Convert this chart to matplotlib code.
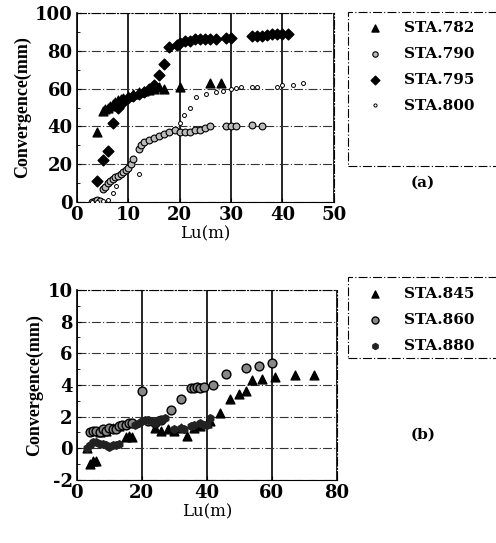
import matplotlib.pyplot as plt
from matplotlib.patches import Rectangle
from matplotlib.ticker import MultipleLocator

plt.rcParams["font.family"] = ["DejaVu Serif"]
plt.rcParams["font.weight"] = "bold"
plt.rcParams["axes.unicode_minus"] = False

# (a) stations 782 - 800
sta782_x = [4, 5, 5.5, 6, 6.5, 7, 7.5, 8, 8.5, 9, 10, 11, 12, 13, 14, 15, 16, 17, 20, 26, 28]
sta782_y = [37, 48, 49, 50, 51, 52, 53, 54, 54.5, 55, 56, 57, 58, 59, 59.5, 60, 61, 60, 61, 63, 63]

sta790_x = [3, 3.5, 4, 4.5, 5, 5.5, 6, 6.5, 7, 7.5, 8, 8.5, 9, 9.5, 10, 10.5, 11, 12,
            12.5, 13, 14, 15, 16, 17, 18, 19, 20, 21, 22, 23, 24, 25, 26, 29, 30, 31, 34, 36]
sta790_y = [0, 0.5, 1, 0.5, 7, 8, 10, 11, 12, 13, 14, 15, 16, 17, 18, 20, 23, 28,
            30, 32, 33, 34, 35, 36, 37, 38, 37, 37, 37, 38, 38, 39, 40, 40, 40, 40, 40.5, 40]

sta795_x = [4, 5, 6, 7, 8, 9, 10, 11, 12, 13, 14, 15, 16, 17, 18, 19.5, 20, 21, 22, 23,
            24, 25, 26, 27, 29, 30, 34, 35, 36, 37, 38, 39, 40, 41]
sta795_y = [11, 22, 27, 42, 50, 53, 55, 56, 57, 58, 60, 62, 67, 73, 82, 83, 84, 85, 85, 86,
            86, 86, 86, 86, 87, 87, 88, 88, 88, 88.5, 89, 89, 89, 89]

sta800_x = [3, 4, 5, 6, 7, 7.7, 12, 20, 20.8, 22.1, 23.1, 25.2, 27, 28.5, 30, 31, 32, 34, 35, 39, 40, 42, 44]
sta800_y = [0, 0, 0.5, 1, 4.8, 8.5, 15, 42, 46, 50, 55.6, 57, 58, 59, 60, 60.5, 61, 61, 61, 61, 62, 62, 63]

# (b) stations 845 - 880
sta845_x = [3, 4, 5, 6, 7, 9, 11, 13, 15, 16, 17, 24, 26, 28, 30, 32, 34, 36, 38, 40, 41,
            44, 47, 50, 52, 54, 57, 61, 67, 73]
sta845_y = [0, -1.0, -0.8, -0.8, 1.0, 1.1, 1.3, 1.4, 0.7, 0.8, 0.7, 1.3, 1.1, 1.2, 1.1, 1.3,
            0.8, 1.3, 1.4, 1.6, 1.7, 2.2, 3.1, 3.4, 3.6, 4.3, 4.4, 4.5, 4.6, 4.6]

sta860_x = [4, 5, 6, 7, 8, 9, 10, 11, 12, 13, 14, 15, 16, 17, 20, 22, 24, 26, 29, 32,
            35, 36, 37, 38, 39, 42, 46, 52, 56, 60]
sta860_y = [1.0, 1.1, 1.1, 1.0, 1.2, 1.1, 1.3, 1.2, 1.2, 1.4, 1.5, 1.5, 1.6, 1.6, 3.6, 1.7,
            1.6, 1.8, 2.4, 3.1, 3.8, 3.8, 3.9, 3.8, 3.9, 4.0, 4.7, 5.1, 5.2, 5.4]

sta880_x = [3, 4, 5, 6, 7, 8, 9, 10, 11, 12, 13, 18, 19, 20, 21, 22, 23, 24, 25, 26, 27,
            30, 32, 33, 35, 36, 38, 39, 40, 41]
sta880_y = [0, 0.2, 0.4, 0.4, 0.3, 0.3, 0.2, 0.1, 0.2, 0.2, 0.3, 1.5, 1.6, 1.7, 1.8, 1.8,
            1.7, 1.6, 1.8, 1.8, 1.9, 1.2, 1.3, 1.2, 1.4, 1.5, 1.6, 1.5, 1.5, 1.9]

DASHDOT = (0, (8, 2, 1, 2))


def style_axes(ax, xmax, xstep, ymin, ymax, ystep):
    ax.set_xlim(0, xmax)
    ax.set_ylim(ymin, ymax)
    ax.xaxis.set_major_locator(MultipleLocator(xstep))
    ax.yaxis.set_major_locator(MultipleLocator(ystep))
    ax.yaxis.set_minor_locator(MultipleLocator(ystep / 2))
    ax.tick_params(which="both", direction="in", labelsize=13, length=3, pad=3)
    ax.tick_params(which="minor", length=2)
    ax.xaxis.grid(True, color="black", linewidth=1.2)
    ax.yaxis.grid(True, color="#333333", linewidth=0.8, linestyle=DASHDOT)
    ax.set_axisbelow(True)
    for side in ["top", "right"]:
        ax.spines[side].set_linestyle(DASHDOT)
        ax.spines[side].set_linewidth(0.8)
    ax.spines["left"].set_linewidth(1.2)
    ax.spines["bottom"].set_linewidth(0.8)
    ax.set_xlabel("Lu(m)", fontsize=12, labelpad=1)
    # the y label is set in a narrower face so its length matches the original
    ax.set_ylabel("Convergence(mm)", fontsize=13, labelpad=3,
                  family="Liberation Serif", fontweight="bold")


fig = plt.figure(figsize=(4.96, 5.43), dpi=100)
ax1 = fig.add_axes([0.155, 0.628, 0.518, 0.348])
ax2 = fig.add_axes([0.155, 0.116, 0.524, 0.350])

ax1.scatter(sta782_x, sta782_y, marker="^", s=40, c="black", label="STA.782", zorder=3)
ax1.scatter(sta790_x, sta790_y, marker="o", s=24, facecolor="#bbbbbb", edgecolor="black",
            linewidth=0.8, label="STA.790", zorder=3)
ax1.scatter(sta795_x, sta795_y, marker="D", s=30, c="black", label="STA.795", zorder=3)
ax1.scatter(sta800_x, sta800_y, marker="o", s=8, facecolor="white", edgecolor="black",
            linewidth=0.7, label="STA.800", zorder=3)
style_axes(ax1, 50, 10, 0, 100, 20)

ax2.scatter(sta845_x, sta845_y, marker="^", s=40, c="black", label="STA.845", zorder=3)
ax2.scatter(sta860_x, sta860_y, marker="o", s=40, facecolor="#888888", edgecolor="black",
            linewidth=1.0, label="STA.860", zorder=3)
ax2.scatter(sta880_x, sta880_y, marker="h", s=30, c="#222222", label="STA.880", zorder=3)
style_axes(ax2, 80, 20, -2, 10, 2)

# legend boxes run off the right edge, as in the original scan
for y0, h in [(1 - 166 / 543, 154 / 543), (1 - 358 / 543, 81 / 543)]:
    fig.patches.append(Rectangle((348 / 496, y0), 0.4, h, transform=fig.transFigure,
                                 fill=False, edgecolor="black", linewidth=0.8,
                                 linestyle=DASHDOT))

legend_kw = dict(loc="upper left", frameon=False, fontsize=11, labelspacing=0.78,
                 handletextpad=1.3, handlelength=1.2, scatterpoints=1, markerscale=0.8)
fig.legend(*ax1.get_legend_handles_labels(), bbox_to_anchor=(352 / 496, 1 - 7 / 543), **legend_kw)
fig.legend(*ax2.get_legend_handles_labels(), bbox_to_anchor=(352 / 496, 1 - 273 / 543), **legend_kw)

fig.text(423 / 496, 1 - 183 / 543, "(a)", ha="center", va="center", fontsize=11)
fig.text(423 / 496, 1 - 435 / 543, "(b)", ha="center", va="center", fontsize=11)

fig.savefig("out.png", dpi=100)
